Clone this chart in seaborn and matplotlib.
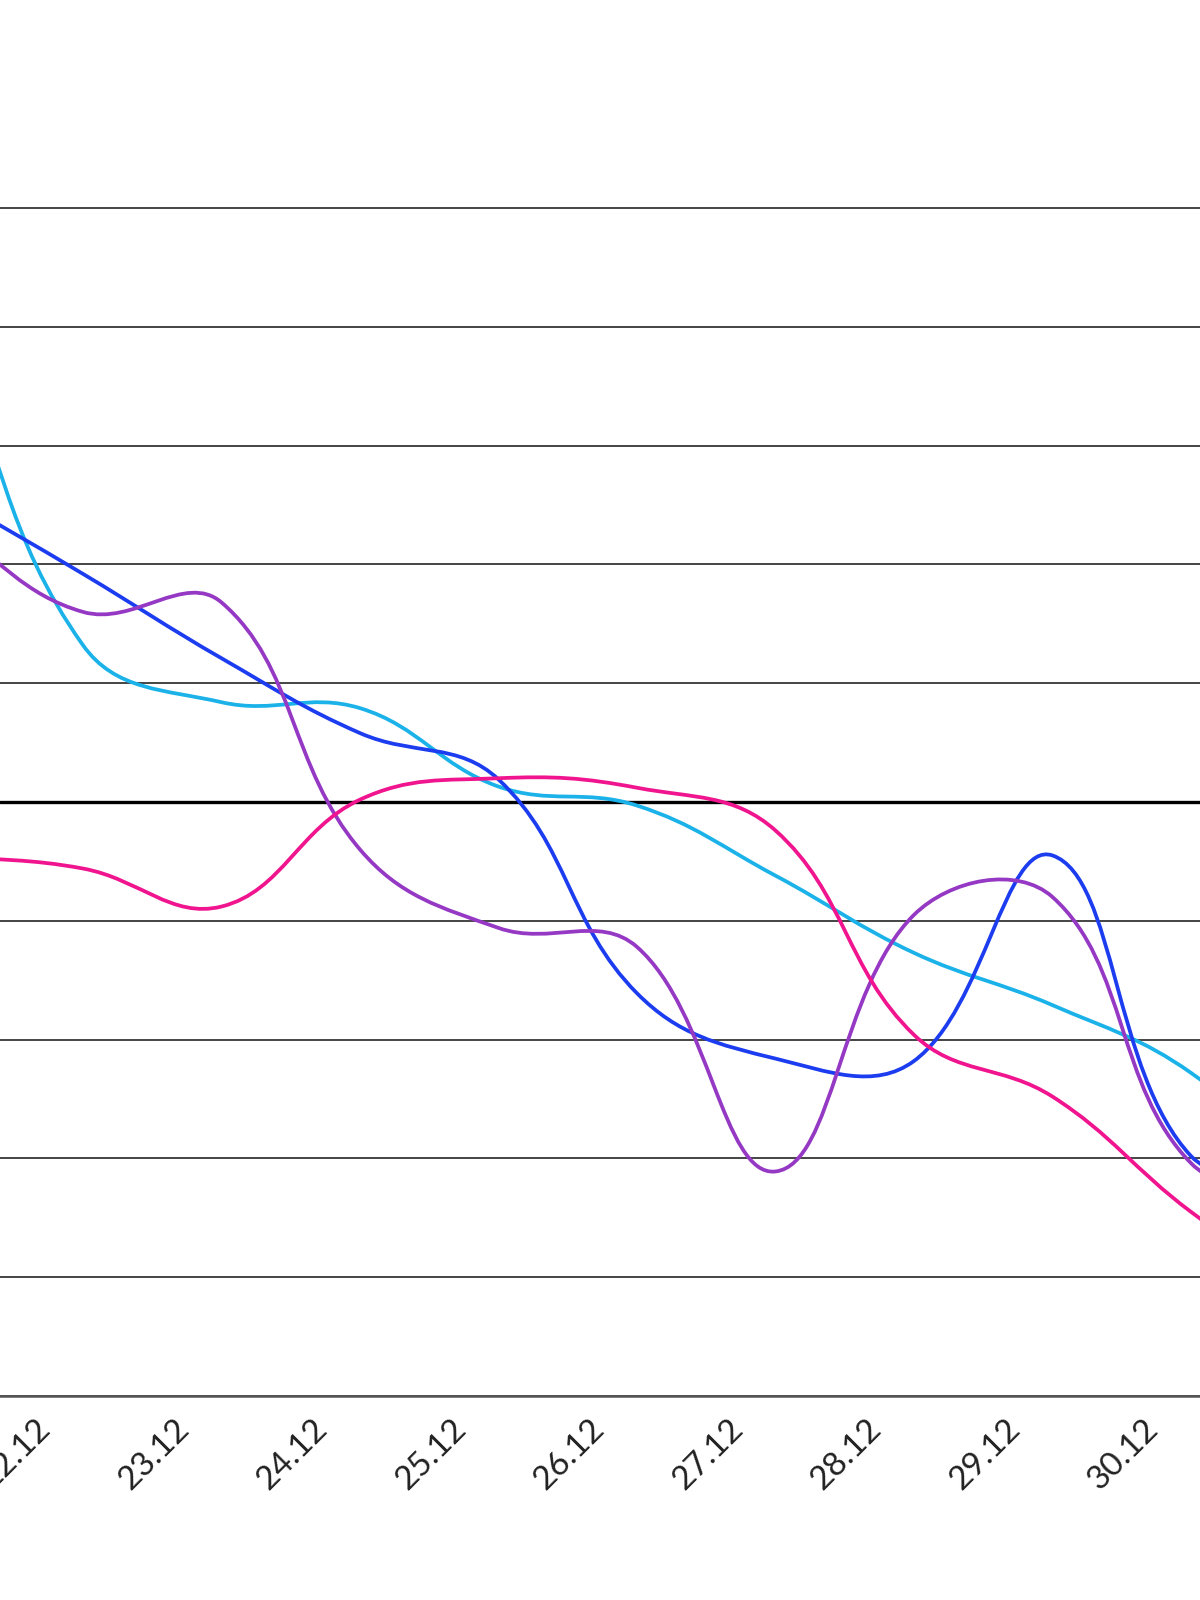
import numpy as np
import pandas as pd
import matplotlib
matplotlib.use("Agg")
import matplotlib.pyplot as plt
import matplotlib.transforms as mtransforms
from matplotlib.path import Path
from matplotlib.patches import PathPatch
import seaborn as sns

# dates on the x axis (21.12 and 31.12 lie just outside the visible window)
dates = ["21.12", "22.12", "23.12", "24.12", "25.12", "26.12",
         "27.12", "28.12", "29.12", "30.12", "31.12"]
shown_labels = ["", "22.12", "23.12", "24.12", "25.12", "26.12",
                "27.12", "28.12", "29.12", "30.12", ""]

# values (grid units, 0..10)
cyan_vals = [9.12, 6.32, 5.84, 5.79, 5.13, 4.97, 4.38, 3.73, 3.29, 2.72, 1.65]
blue_vals = [7.60, 6.92, 6.21, 5.58, 5.19, 3.39, 2.84, 2.82, 4.55, 2.02, 2.07]
purple_vals = [7.35, 6.60, 6.68, 4.60, 3.94, 3.78, 1.89, 4.05, 4.20, 1.96, 1.82]
pink_vals = [4.55, 4.44, 4.12, 5.02, 5.20, 5.12, 4.76, 3.04, 2.52, 1.55, 0.78]

series_names = ["cyan", "blue", "purple", "pink"]
colors = ["#1ab2e8", "#1c3cf0", "#9538c4", "#f0148f"]


def smooth_path(ax, xs, ys, tension=0.4):
    # Bezier spline through the points (same scheme as chart.js), computed in pixels
    pts = ax.transData.transform(np.column_stack([xs, ys]))
    n = len(pts)
    prev_cp, next_cp = [], []
    for i in range(n):
        p0 = pts[i - 1] if i > 0 else pts[i]
        p1 = pts[i]
        p2 = pts[i + 1] if i < n - 1 else pts[i]
        d01 = np.hypot(*(p1 - p0))
        d12 = np.hypot(*(p2 - p1))
        tot = d01 + d12
        s01 = d01 / tot if tot else 0
        s12 = d12 / tot if tot else 0
        prev_cp.append(p1 - tension * s01 * (p2 - p0))
        next_cp.append(p1 + tension * s12 * (p2 - p0))
    verts = [pts[0]]
    codes = [Path.MOVETO]
    for i in range(n - 1):
        verts += [next_cp[i], prev_cp[i + 1], pts[i + 1]]
        codes += [Path.CURVE4] * 3
    inv = ax.transData.inverted()
    return Path(inv.transform(np.array(verts)), codes)


def main():
    sns.set_theme(style="white")
    plt.rcParams["font.family"] = ["Lato", "DejaVu Sans"]

    df = pd.DataFrame({
        "x": list(range(len(dates))) * 4,
        "value": cyan_vals + blue_vals + purple_vals + pink_vals,
        "series": sum([[s] * len(dates) for s in series_names], []),
    })

    fig = plt.figure(figsize=(12, 16), dpi=100)
    ax = fig.add_axes([0, 204 / 1600, 1, 1396 / 1600])

    sns.lineplot(data=df, x="x", y="value", hue="series", hue_order=series_names,
                 palette=colors, legend=False, ax=ax)

    # ticks first (set_xticks can widen the view), then the cropped window
    ax.set_xticks(range(len(dates)))
    ax.set_xticklabels(shown_labels, rotation=45, ha="right", va="center",
                       rotation_mode="anchor", fontsize=24, color="#222222")
    ax.set_yticks(range(0, 11))
    ax.set_yticklabels([])
    ax.set_xlim(55.5 / 138.5, 1255.5 / 138.5)
    ax.set_ylim(0, 1396 / 118.8)

    # swap the straight segments for smooth curves
    for line in list(ax.lines):
        xs, ys = line.get_data()
        path = smooth_path(ax, np.asarray(xs, float), np.asarray(ys, float))
        ax.add_patch(PathPatch(path, facecolor="none", edgecolor=line.get_color(),
                               lw=2.7, capstyle="round", joinstyle="round", zorder=3))
        line.remove()

    # horizontal grid
    ax.yaxis.grid(True, color="#444444", lw=1.4)
    ax.axhline(5, color="black", lw=2.4, zorder=2)
    ax.tick_params(axis="y", length=0)

    for side in ["top", "left", "right"]:
        ax.spines[side].set_visible(False)
    ax.spines["bottom"].set_color("#555555")
    ax.spines["bottom"].set_linewidth(1.8)

    ax.tick_params(axis="x", length=0, pad=20)
    offset = mtransforms.ScaledTranslation(-0.37, 0, fig.dpi_scale_trans)
    for lbl in ax.get_xticklabels():
        lbl.set_transform(lbl.get_transform() + offset)

    ax.set_xlabel("")
    ax.set_ylabel("")
    fig.savefig("out.png", dpi=100)


if __name__ == "__main__":
    main()
